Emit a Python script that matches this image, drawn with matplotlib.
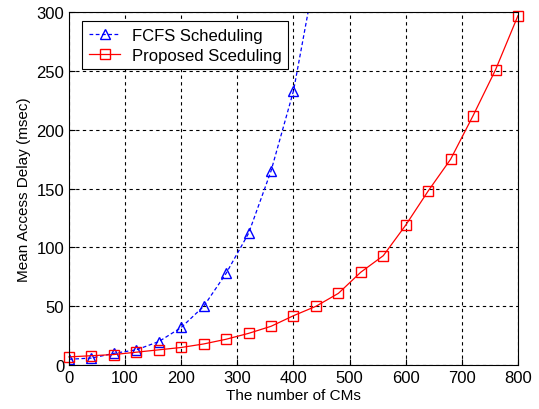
import matplotlib
matplotlib.use('Agg')
import matplotlib.pyplot as plt

# Number of CMs
cms = [0, 40, 80, 120, 160, 200, 240, 280, 320, 360, 400, 440,
       480, 520, 560, 600, 640, 680, 720, 760, 800]
fcfs_cms = [0, 40, 80, 120, 160, 200, 240, 280, 320, 360, 400, 440]

# Mean access delay (msec)
fcfs_delay = [5, 6, 10, 13, 20, 32, 50, 78, 112, 165, 233, 336]
prop_delay = [7, 8, 9, 11, 13, 15, 18, 22, 27, 33, 42, 50,
              61, 79, 93, 119, 148, 175, 212, 251, 297]

xticks = [0, 100, 200, 300, 400, 500, 600, 700, 800]
yticks = [0, 50, 100, 150, 200, 250, 300]

plt.rcParams['font.family'] = ['Liberation Sans', 'DejaVu Sans']

fig = plt.figure(figsize=(5.39, 4.10), dpi=100)
ax = fig.add_axes([0.128, 0.107, 0.833, 0.861])

ax.plot(fcfs_cms, fcfs_delay, 'b--^', linewidth=0.9, markersize=7.5,
        markerfacecolor='none', markeredgewidth=1.0, dashes=(3, 2),
        label='FCFS Scheduling')
ax.plot(cms, prop_delay, 'r-s', linewidth=0.9, markersize=7,
        markerfacecolor='none', markeredgewidth=1.0,
        label='Proposed Sceduling', clip_on=False)

ax.set_xlim(0, 800)
ax.set_ylim(0, 300)
ax.set_xticks(xticks)
ax.set_yticks(yticks)
ax.tick_params(direction='in', labelsize=12, length=4)
ax.grid(True, color='black', linestyle=(0, (3, 3)), linewidth=0.8)
ax.set_xlabel('The number of CMs', fontsize=11, labelpad=2)
ax.set_ylabel('Mean Access Delay (msec)', fontsize=11, labelpad=4)

leg = ax.legend(loc='upper left', fontsize=12, fancybox=False,
                edgecolor='black', framealpha=1, borderpad=0.4,
                handlelength=1.9, labelspacing=0.3, handletextpad=0.7,
                borderaxespad=0, bbox_to_anchor=(0.029, 0.975))
leg.get_frame().set_linewidth(0.8)

fig.savefig('out.png', dpi=100)
